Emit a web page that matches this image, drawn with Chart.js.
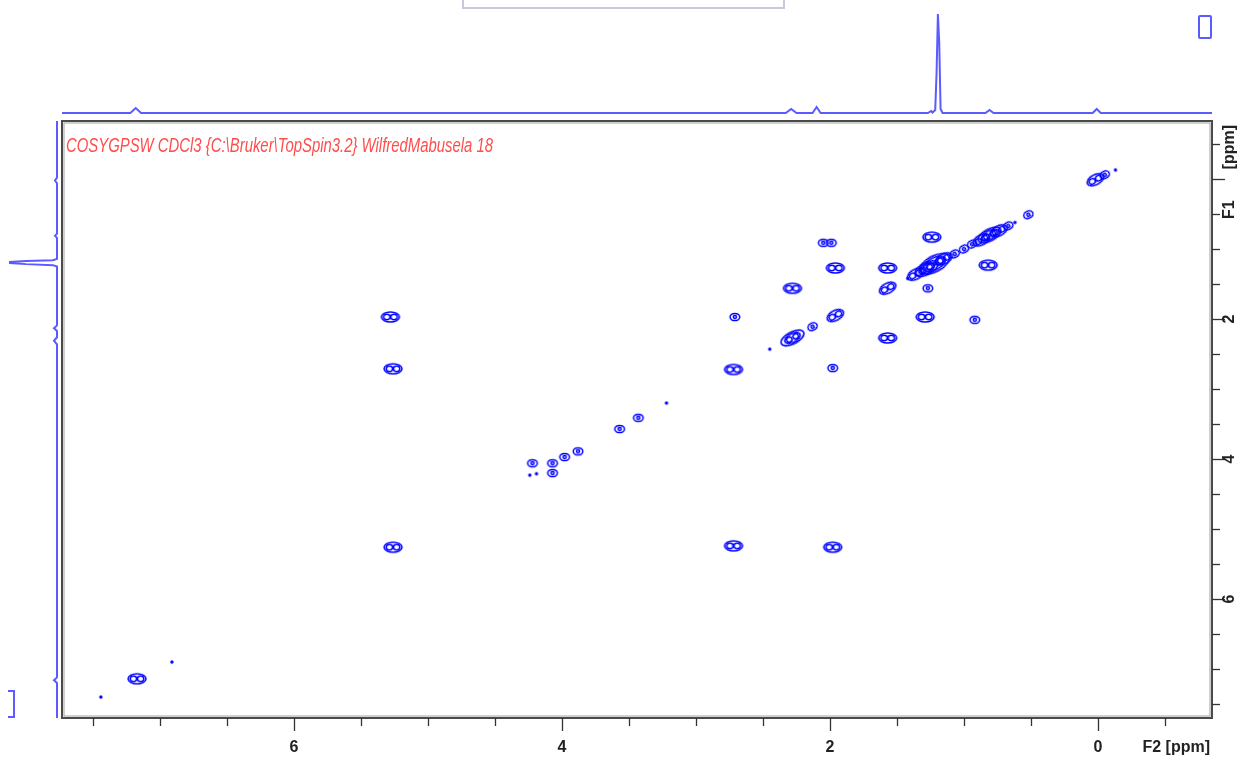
<!DOCTYPE html>
<html><head><meta charset="utf-8">
<script src="https://cdn.jsdelivr.net/npm/chart.js@4.4.1/dist/chart.umd.min.js"></script>
<style>
html,body{margin:0;padding:0;background:#fff;}
#wrap{position:relative;width:1239px;height:765px;overflow:hidden;background:#fff;}
canvas{position:absolute;}
#main{left:0;top:0;}
#top{left:62px;top:10px;}
#side{left:5px;top:121px;}
.deco{position:absolute;box-sizing:border-box;}
</style></head><body>
<div id="wrap">
<div class="deco" style="left:462px;top:-3px;width:323px;height:12px;border:2px solid #c9c9db;border-top-width:3px;"></div>
<canvas id="main" width="1239" height="765"></canvas>
<canvas id="top" width="1150" height="108"></canvas>
<canvas id="side" width="56" height="597"></canvas>
<div class="deco" style="left:1198px;top:15px;width:14px;height:24px;border:2px solid #5b5bff;border-radius:2px;"></div>
<div class="deco" style="left:8px;top:690px;width:7px;height:28px;border:2px solid #5b5bff;border-left:none;"></div>
</div>
<script>
// ---- axis ranges and ticks (ppm) ----
const F2_MIN = -0.85, F2_MAX = 7.73;
const F1_MIN = -0.83, F1_MAX = 7.70;
const f2TickValues = [-0.5,0,0.5,1,1.5,2,2.5,3,3.5,4,4.5,5,5.5,6,6.5,7,7.5];
const f1TickValues = [-0.5,0,0.5,1,1.5,2,2.5,3,3.5,4,4.5,5,5.5,6,6.5,7,7.5];
const xTickLabels = [6, 4, 2, 0];
const yTickLabels = [2, 4, 6];
const titleText = "COSYGPSW CDCl3 {C:\\Bruker\\TopSpin3.2} WilfredMabusela 18";
const f2AxisLabel = "F2 [ppm]";
const f1AxisLabel = ["F1", "[ppm]"];

// ---- 2D cross peaks: F2 shift, F1 shift, contour level count ----
const peakF2 = [0.02,-0.05,-0.13,0.52,0.62,0.67,0.74,0.81,0.87,0.94,1.00,1.07,1.15,1.22,1.28,1.36,1.42,1.57,1.96,2.13,2.28,2.45,2.72,3.22,3.43,3.57,3.88,3.98,4.07,4.24,5.26,6.91,7.17,7.44,
  1.24,0.82,2.05,1.99,1.96,1.57,2.28,1.27,2.71,1.29,0.92,1.57,5.28,5.26,1.98,2.72,1.98,4.07,4.22,4.19];
const peakF1 = [0.01,-0.06,-0.13,0.51,0.62,0.67,0.74,0.80,0.87,0.93,1.00,1.07,1.14,1.21,1.28,1.36,1.42,1.56,1.95,2.11,2.27,2.43,2.72,3.20,3.41,3.57,3.89,3.97,4.06,4.23,5.26,6.90,7.14,7.40,
  0.83,1.23,0.91,0.91,1.27,1.27,1.56,1.56,1.97,1.97,2.01,2.27,1.97,2.71,2.70,5.24,5.26,4.20,4.06,4.21];
const peakLevel = [2,1,0,1,0,1,2,3,2,1,1,1,2,4,3,2,0,2,2,1,3,0,2,0,1,1,1,1,1,0,2,0,2,0,
  2,2,1,1,2,2,2,1,1,2,1,2,2,2,1,2,2,1,1,0];

// ---- 1D projections: [ppm, intensity] ----
const topProjPpm = [7.73,7.22,7.18,7.14,2.33,2.29,2.25,2.13,2.10,2.07,1.27,1.245,1.235,1.215,1.205,1.195,1.185,1.175,1.16,0.84,0.81,0.78,0.04,0.01,-0.02,-0.85];
const topProjInt = [0,0,5,0,0,4,0,0,6,0,0,2,0.5,3,40,99,70,4,0,0,3,0,0,4,0,0];
const sideProjPpm = [-0.83,-0.02,0.02,0.06,0.78,0.81,0.84,1.14,1.16,1.17,1.185,1.2,1.215,1.23,1.25,2.09,2.13,2.17,2.26,2.31,2.36,7.12,7.16,7.20,7.70];
const sideProjInt = [0,0,2,0,0,2,0,0,4,31,47,47,31,4,0,0,3,0,0,3,0,0,3,0,0];

const BLUE = '#0000ff', PROJ = '#5b5bff', AXIS = '#333333';
const FONT = "'Liberation Sans Narrow','Liberation Sans',Arial,sans-serif";

// contour glyph: list of ellipses [cx offset, rx, ry, filled]
function makeGlyph(level){
  const specs = [
    [[0,1.7,1.7,true]],
    [[0,4.8,3.6],[0,1.6,1.4]],
    [[0,9,5],[-3.6,3.2,2.7],[3.6,3.2,2.7]],
    [[0,12.5,6],[0,8.5,4.3],[-3.6,2.8,2.4],[3.6,2.8,2.4]],
    [[0,16,8],[0,12,6],[-5,4,3.4],[5,4,3.4],[0,1.6,1.4]]
  ][level];
  const w = Math.ceil(specs[0][1]*2+4), h = Math.ceil(specs[0][2]*2+4);
  const c = document.createElement('canvas'); c.width = w; c.height = h;
  const g = c.getContext('2d');
  g.strokeStyle = BLUE; g.fillStyle = BLUE; g.lineWidth = 1.5;
  specs.forEach(([ox,rx,ry,fill]) => { g.beginPath(); g.ellipse(w/2+ox,h/2,rx,ry,0,0,Math.PI*2); fill ? g.fill() : g.stroke(); });
  return c;
}
const glyphs = [0,1,2,3,4].map(makeGlyph);

function diagAngle(chart){
  const sx = chart.scales.x, sy = chart.scales.y;
  const dx = sx.getPixelForValue(1) - sx.getPixelForValue(0);
  const dy = sy.getPixelForValue(1) - sy.getPixelForValue(0);
  return Math.atan2(dy, dx) * 180 / Math.PI;
}
function onCrowdedDiagonal(i){
  return Math.abs(peakF2[i] - peakF1[i]) < 0.06 && peakF2[i] < 2.4;
}

const framePlugin = {
  id: 'frame',
  afterDraw(chart){
    const {ctx, chartArea: a, scales: {x, y}} = chart;
    ctx.save();
    ctx.strokeStyle = '#a0a0a0'; ctx.lineWidth = 1;
    ctx.strokeRect(a.left+2, a.top+2, a.right-a.left-4, a.bottom-a.top-4);
    ctx.strokeStyle = '#4a4a4a'; ctx.lineWidth = 2;
    ctx.strokeRect(a.left, a.top, a.right-a.left, a.bottom-a.top);
    ctx.strokeStyle = AXIS; ctx.lineWidth = 1.3;
    x.ticks.forEach(t => {
      const v = t.value;
      const major = Math.abs(v/2 - Math.round(v/2)) < 1e-6;
      const px = Math.round(x.getPixelForValue(v)) + 0.5;
      ctx.beginPath(); ctx.moveTo(px, a.bottom); ctx.lineTo(px, a.bottom + (major ? 13 : 8)); ctx.stroke();
    });
    y.ticks.forEach(t => {
      const v = t.value;
      const major = Math.abs(v/2 - Math.round(v/2)) < 1e-6;
      const py = Math.round(y.getPixelForValue(v)) + 0.5;
      ctx.beginPath(); ctx.moveTo(a.right, py); ctx.lineTo(a.right + (major ? 13 : 8), py); ctx.stroke();
    });
    ctx.fillStyle = '#222'; ctx.font = 'bold 16px ' + FONT;
    ctx.textAlign = 'center'; ctx.textBaseline = 'middle';
    xTickLabels.forEach(v => ctx.fillText(String(v), x.getPixelForValue(v), a.bottom + 30));
    ctx.textAlign = 'right';
    ctx.fillText(f2AxisLabel, a.right - 2, a.bottom + 30);
    const lx = a.right + 18;
    yTickLabels.forEach(v => {
      ctx.save(); ctx.translate(lx, y.getPixelForValue(v)); ctx.rotate(-Math.PI/2);
      ctx.textAlign = 'center'; ctx.fillText(String(v), 0, 0); ctx.restore();
    });
    ctx.save(); ctx.translate(lx, a.top + 4); ctx.rotate(-Math.PI/2);
    ctx.textAlign = 'right'; ctx.fillText(f1AxisLabel[1], 0, 0);
    ctx.restore();
    ctx.save(); ctx.translate(lx, y.getPixelForValue(0) + 40); ctx.rotate(-Math.PI/2);
    ctx.textAlign = 'left'; ctx.fillText(f1AxisLabel[0], 0, 0);
    ctx.restore();
    ctx.font = 'italic 20px ' + FONT; ctx.fillStyle = '#ff4d4d';
    ctx.textAlign = 'left'; ctx.textBaseline = 'alphabetic';
    const w = ctx.measureText(titleText).width;
    ctx.save(); ctx.translate(a.left + 4, a.top + 31); ctx.scale(427 / w, 1);
    ctx.fillText(titleText, 0, 0); ctx.restore();
    ctx.restore();
  }
};

new Chart(document.getElementById('main'), {
  type: 'scatter',
  data: { datasets: [{
    data: peakF2.map((v, i) => ({x: v, y: peakF1[i]})),
    pointStyle: c => glyphs[peakLevel[c.dataIndex]],
    rotation: c => (onCrowdedDiagonal(c.dataIndex) ? diagAngle(c.chart) : 0),
    pointRadius: 3, borderColor: BLUE, backgroundColor: BLUE
  }]},
  options: {
    responsive: false, animation: false, devicePixelRatio: 1, events: [],
    layout: { padding: { left: 62, top: 121, right: 0, bottom: 0 } },
    plugins: { legend: { display: false }, tooltip: { enabled: false } },
    scales: {
      x: { type: 'linear', min: F2_MIN, max: F2_MAX, reverse: true, position: 'bottom',
           ticks: { display: false }, grid: { display: false }, border: { display: false },
           afterBuildTicks(s){ s.ticks = f2TickValues.map(v => ({value: v})); },
           afterFit(s){ s.height = 47; } },
      y: { type: 'linear', min: F1_MIN, max: F1_MAX, reverse: true, position: 'right',
           ticks: { display: false }, grid: { display: false }, border: { display: false },
           afterBuildTicks(s){ s.ticks = f1TickValues.map(v => ({value: v})); },
           afterFit(s){ s.width = 27; } }
    }
  },
  plugins: [framePlugin]
});

const hidden = { display: false };
new Chart(document.getElementById('top'), {
  type: 'scatter',
  data: { datasets: [{ data: topProjPpm.map((v, i) => ({x: v, y: topProjInt[i]})), showLine: true,
    borderColor: PROJ, borderWidth: 2, pointRadius: 0, tension: 0, clip: false }]},
  options: { responsive: false, animation: false, devicePixelRatio: 1, events: [],
    layout: { padding: { left: 0, right: 0, top: 4, bottom: 5 } },
    plugins: { legend: hidden, tooltip: { enabled: false } },
    scales: { x: { type: 'linear', min: F2_MIN, max: F2_MAX, reverse: true, display: false },
              y: { type: 'linear', min: 0, max: 99, display: false } } }
});

new Chart(document.getElementById('side'), {
  type: 'scatter',
  data: { datasets: [{ data: sideProjPpm.map((v, i) => ({x: sideProjInt[i], y: v})), showLine: true,
    borderColor: PROJ, borderWidth: 2, pointRadius: 0, tension: 0, clip: false }]},
  options: { responsive: false, animation: false, devicePixelRatio: 1, events: [],
    layout: { padding: { left: 5, right: 4, top: 0, bottom: 0 } },
    plugins: { legend: hidden, tooltip: { enabled: false } },
    scales: { x: { type: 'linear', min: 0, max: 47, reverse: true, display: false },
              y: { type: 'linear', min: F1_MIN, max: F1_MAX, reverse: true, display: false } } }
});
</script>
</body></html>
